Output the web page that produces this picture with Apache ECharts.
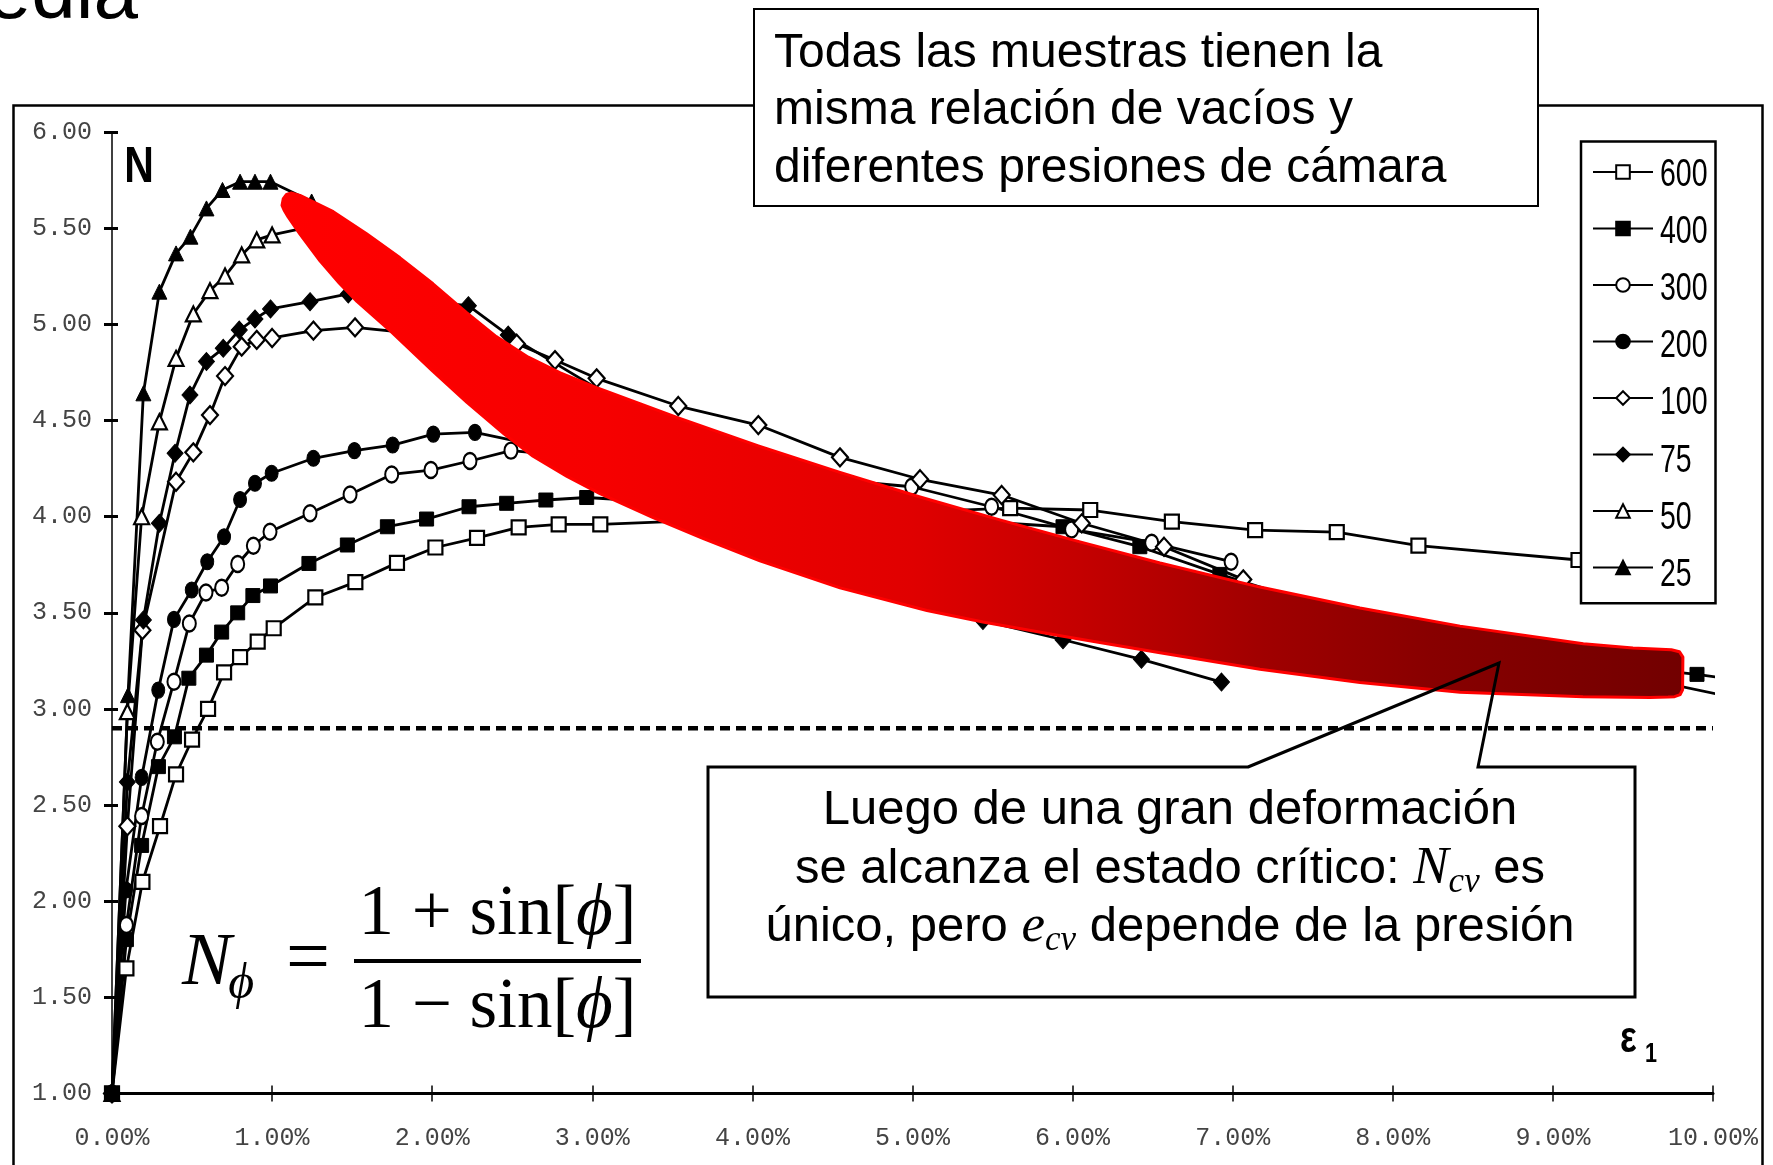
<!DOCTYPE html>
<html>
<head>
<meta charset="utf-8">
<script src="https://cdn.jsdelivr.net/npm/echarts@6/dist/echarts.min.js"></script>
<style>
html, body { margin: 0; padding: 0; background: #fff; }
#chart { width: 1773px; height: 1165px; }
</style>
</head>
<body>
<div id="chart"></div>
<script>
// Axial strain ε1 (%) versus N for each confining pressure (kPa)
const seriesNames = ['600', '400', '300', '200', '100', '75', '50', '25'];

const s600 = [[0,1.00],[0.09,1.65],[0.19,2.10],[0.30,2.39],[0.40,2.66],[0.50,2.84],[0.60,3.00],[0.70,3.19],[0.80,3.27],[0.91,3.35],[1.01,3.42],[1.27,3.58],[1.52,3.66],[1.78,3.76],[2.02,3.84],[2.28,3.89],[2.54,3.945],[2.79,3.96],[3.05,3.96],[5.61,4.045],[6.11,4.035],[6.62,3.975],[7.14,3.93],[7.65,3.92],[8.16,3.85],[9.16,3.775],[10.07,3.645]];
const s400 = [[0,1.00],[0.09,1.80],[0.185,2.29],[0.29,2.70],[0.39,2.855],[0.48,3.16],[0.59,3.28],[0.685,3.40],[0.785,3.50],[0.88,3.59],[0.99,3.64],[1.23,3.757],[1.47,3.853],[1.72,3.948],[1.965,3.988],[2.23,4.052],[2.465,4.07],[2.71,4.087],[2.965,4.10],[5.94,3.948],[6.42,3.844],[6.92,3.70],[8.40,3.31],[9.90,3.18],[10.07,3.16]];
const s300 = [[0,1.00],[0.09,1.876],[0.185,2.443],[0.283,2.829],[0.387,3.142],[0.483,3.445],[0.587,3.606],[0.685,3.631],[0.785,3.754],[0.883,3.849],[0.987,3.922],[1.237,4.018],[1.487,4.116],[1.747,4.22],[1.992,4.243],[2.236,4.29],[2.492,4.344],[4.995,4.156],[5.494,4.052],[5.994,3.934],[6.494,3.865],[6.99,3.766]];
const s200 = [[0,1.00],[0.087,2.058],[0.185,2.644],[0.289,3.098],[0.387,3.466],[0.498,3.619],[0.595,3.766],[0.70,3.896],[0.80,4.09],[0.893,4.174],[0.997,4.226],[1.258,4.304],[1.514,4.344],[1.753,4.373],[2.007,4.43],[2.267,4.439],[10.07,3.07]];
const s100 = [[0,1.00],[0.096,2.39],[0.19,3.41],[0.40,4.182],[0.508,4.335],[0.612,4.529],[0.706,4.732],[0.81,4.885],[0.904,4.92],[1.00,4.93],[1.258,4.968],[1.518,4.985],[2.528,4.90],[2.767,4.815],[3.027,4.72],[3.537,4.576],[4.037,4.477],[4.547,4.309],[5.047,4.195],[5.557,4.113],[6.057,3.966],[6.571,3.844],[7.066,3.674]];
const s75 = [[0,1.00],[0.096,2.62],[0.196,3.463],[0.296,3.966],[0.394,4.33],[0.487,4.633],[0.59,4.807],[0.695,4.876],[0.795,4.971],[0.893,5.029],[0.99,5.081],[1.237,5.119],[1.476,5.159],[2.226,5.098],[2.475,4.945],[5.44,3.46],[5.94,3.36],[6.43,3.258],[6.93,3.14]];
const s50 = [[0,1.00],[0.096,2.986],[0.185,4.00],[0.296,4.494],[0.40,4.824],[0.508,5.055],[0.612,5.176],[0.706,5.252],[0.81,5.362],[0.904,5.44],[1.0,5.466],[1.25,5.51]];
const s25 = [[0,1.00],[0.10,3.072],[0.196,4.642],[0.296,5.171],[0.40,5.37],[0.49,5.457],[0.59,5.604],[0.69,5.70],[0.80,5.743],[0.893,5.743],[0.99,5.743],[1.247,5.64]];

// Critical-state reference value of N
const nCritical = 2.90;

// Axis ranges
const xMin = 0, xMax = 10, xStep = 1;
const yMin = 1, yMax = 6, yStep = 0.5;

// Outline of the highlighted band (strain %, N): upper edge left to right, lower edge right to left
const bandUpper = [[1.062,5.62],[1.07,5.655],[1.09,5.677],[1.12,5.684],[1.174,5.672],[1.382,5.587],[1.59,5.472],[1.799,5.347],[2.005,5.212],[2.215,5.062],[2.40,4.937],[2.60,4.83],[2.80,4.748],[3.027,4.672],[3.537,4.514],[4.037,4.369],[4.547,4.231],[5.047,4.103],[5.557,3.981],[6.046,3.869],[6.546,3.759],[7.17,3.634],[7.795,3.525],[8.42,3.431],[9.19,3.339],[9.50,3.317],[9.74,3.308],[9.79,3.298],[9.812,3.27],[9.81,3.10],[9.795,3.075],[9.76,3.064]];
const bandLower = [[9.72,3.062],[9.607,3.06],[9.188,3.063],[8.42,3.087],[7.795,3.138],[7.17,3.207],[6.546,3.292],[5.94,3.378],[5.44,3.452],[5.09,3.512],[4.547,3.63],[4.047,3.77],[3.69,3.888],[3.38,3.995],[3.048,4.12],[2.842,4.21],[2.63,4.315],[2.45,4.43],[2.217,4.595],[2.00,4.76],[1.74,4.965],[1.53,5.12],[1.42,5.215],[1.30,5.33],[1.174,5.47],[1.10,5.56],[1.075,5.595]];
const bandPath = bandUpper.concat(bandLower);

// ---------- text helpers ----------
const mctx = document.createElement('canvas').getContext('2d');
function measure(font, s) { mctx.font = font; mctx.textBaseline = 'middle'; return mctx.measureText(s); }
const SANS = 'Liberation Sans, Arial, sans-serif';
const SERIF = 'Liberation Serif, DejaVu Serif, serif';
const MONO = 'Liberation Mono, DejaVu Sans Mono, monospace';

function baseOffset(font) { return measure(font, 'H').actualBoundingBoxDescent; }
function textEl(str, font, x, baseline, align, z, scaleX) {
  const a = align || 'left';
  return {
    type: 'text', x: x, y: baseline - baseOffset(font), z: z || 40, silent: true, scaleX: scaleX || 1,
    style: { text: str, font: font, fill: '#000', align: a, verticalAlign: 'middle', textAlign: a, textVerticalAlign: 'middle' }
  };
}
function runEls(segs, cx, baseline, z) {
  const widths = segs.map(s => measure(s.font, s.t).width);
  const total = widths.reduce((a, b) => a + b, 0);
  let x = cx - total / 2;
  const out = [];
  segs.forEach((s, i) => { out.push(textEl(s.t, s.font, x, baseline + (s.dy || 0), 'left', z)); x += widths[i]; });
  return out;
}

// ---------- series ----------
const ellipse = 'path://M5,0 A5,6.5 0 1,1 5,13 A5,6.5 0 1,1 5,0 Z';
function mkSeries(name, pts, symbol, filled, size) {
  return {
    type: 'line', name: name, symbol: symbol, symbolSize: size, clip: false, z: 2,
    data: pts.map(p => (p[0] > xMax ? { value: p, symbol: 'none' } : p)),
    lineStyle: { color: '#000', width: 2.8 },
    itemStyle: { color: filled ? '#000' : '#fff', borderColor: '#000', borderWidth: filled ? 1 : 2.2 },
    emphasis: { disabled: true }
  };
}

const series = [
  mkSeries('600', s600, 'rect', false, 14),
  mkSeries('400', s400, 'rect', true, 14),
  mkSeries('300', s300, ellipse, false, [13, 16]),
  mkSeries('200', s200, ellipse, true, [13, 16]),
  mkSeries('100', s100, 'diamond', false, [16, 18]),
  mkSeries('75', s75, 'diamond', true, [16, 18]),
  mkSeries('50', s50, 'triangle', false, [15, 15]),
  mkSeries('25', s25, 'triangle', true, [15, 15]),
  {
    type: 'line', name: 'Ncv', data: [[xMin, nCritical], [xMax, nCritical]], symbol: 'none', z: 3,
    lineStyle: { color: '#000', width: 4.5, type: [10, 6] }, emphasis: { disabled: true }
  },
  {
    type: 'custom', name: 'critical band', coordinateSystem: 'cartesian2d', data: bandPath, z: 5, silent: true, clip: false,
    renderItem: function (params, api) {
      if (params.dataIndex !== 0) return null;
      const pts = bandPath.map(p => api.coord(p));
      return {
        type: 'polygon',
        shape: { points: pts },
        style: {
          fill: new echarts.graphic.LinearGradient(0, 0, 1, 0, [
            { offset: 0, color: '#ff0000' },
            { offset: 0.23, color: '#f60000' },
            { offset: 0.45, color: '#e00000' },
            { offset: 0.57, color: '#c40000' },
            { offset: 0.7, color: '#a00000' },
            { offset: 0.82, color: '#880000' },
            { offset: 1, color: '#720000' }
          ]),
          stroke: '#ff0000', lineWidth: 3, lineJoin: 'round'
        }
      };
    }
  }
];

// ---------- annotations ----------
const sansTop = 'normal normal 48px ' + SANS;
const sansCall = 'normal normal 49px ' + SANS;
const mathIt = 'italic normal 53px ' + SERIF;
const mathSub = 'italic normal 35px ' + SERIF;
const fUp = 'normal normal 71px ' + SERIF;
const fIt = 'italic normal 71px ' + SERIF;
const fN = 'italic normal 74px ' + SERIF;
const fSub = 'italic normal 50px ' + SERIF;
const fEq = 'normal normal 78px ' + SERIF;
const legendFont = 'normal normal 38px ' + SANS;
const condensed = 'normal bold 50px ' + SANS;

// legend entry centres (px), used for the condensed legend labels
const legendTop = 141.5, legendPadTop = 22, legendIconH = 17, legendGap = 40.2;
const legendLabels = seriesNames.map((n, i) => {
  const cy = legendTop + legendPadTop + legendIconH / 2 + i * (legendIconH + legendGap);
  return textEl(n, legendFont, 1660, cy + 0.358 * 38, 'left', 60, 0.75);
});

const nW = measure(fN, 'N').width;
const graphics = [
  // slide frame
  { type: 'polyline', z: 20, silent: true, shape: { points: [[13.5, 1180], [13.5, 105.5], [1762.5, 105.5], [1762.5, 1180]] },
    style: { stroke: '#000', lineWidth: 2.5, fill: null } },
  // partial slide title
  textEl('edia', 'normal normal 80px ' + SANS, 138, 19, 'right', 20),
  // top note box
  { type: 'rect', z: 21, silent: true, shape: { x: 754, y: 9, width: 784, height: 197 },
    style: { fill: '#fff', stroke: '#000', lineWidth: 2 } },
  textEl('Todas las muestras tienen la', sansTop, 774, 66.5, 'left', 22),
  textEl('misma relación de vacíos y', sansTop, 774, 124, 'left', 22),
  textEl('diferentes presiones de cámara', sansTop, 774, 181.5, 'left', 22),
  // axis titles (condensed)
  textEl('N', condensed, 139, 181.5, 'center', 22, 0.82),
  textEl('ε', 'normal bold 44px ' + SANS, 1620, 1052, 'left', 22, 0.8),
  textEl('1', 'normal bold 27px ' + SANS, 1645, 1061.5, 'left', 22, 0.8),
  // formula
  textEl('N', fN, 182, 984, 'left', 22),
  textEl('ϕ', fSub, 182 + nW - 3, 998, 'left', 22),
  textEl('=', fEq, 286, 983, 'left', 22),
  { type: 'line', z: 22, silent: true, shape: { x1: 354, y1: 961, x2: 641, y2: 961 }, style: { stroke: '#000', lineWidth: 4 } }
].concat(
  runEls([{ t: '1 + sin[', font: fUp }, { t: 'ϕ', font: fIt }, { t: ']', font: fUp }], 497.5, 934, 22),
  runEls([{ t: '1 − sin[', font: fUp }, { t: 'ϕ', font: fIt }, { t: ']', font: fUp }], 497.5, 1027, 22),
  [
    // callout box with pointer
    { type: 'polygon', z: 30, silent: true,
      shape: { points: [[1248, 767], [1499, 663], [1478, 767], [1635, 767], [1635, 997], [708, 997], [708, 767]] },
      style: { fill: null, stroke: '#000', lineWidth: 3, lineJoin: 'miter' } }
  ],
  runEls([{ t: 'Luego de una gran deformación', font: sansCall }], 1170, 824, 31),
  runEls([{ t: 'se alcanza el estado crítico: ', font: sansCall }, { t: 'N', font: mathIt }, { t: 'cv', font: mathSub, dy: 9 }, { t: ' es', font: sansCall }], 1170, 882.5, 31),
  runEls([{ t: 'único, pero ', font: sansCall }, { t: 'e', font: mathIt }, { t: 'cv', font: mathSub, dy: 9 }, { t: ' depende de la presión', font: sansCall }], 1170, 941, 31),
  legendLabels
);

// ---------- chart ----------
const chart = echarts.init(document.getElementById('chart'), null, { renderer: 'canvas' });
const tickLabelStyle = { fontFamily: MONO, fontSize: 25, color: '#444' };
chart.setOption({
  animation: false,
  backgroundColor: '#fff',
  tooltip: { show: false },
  grid: { left: 112, top: 132.3, width: 1601, height: 961.1, containLabel: false, outerBoundsMode: 'none' },
  xAxis: [
    { type: 'value', min: xMin, max: xMax, interval: xStep, position: 'bottom',
      axisLine: { show: true, onZero: false, lineStyle: { color: '#000', width: 3 } },
      axisTick: { show: true, inside: false, length: 8, lineStyle: { color: '#000', width: 1.5 } },
      axisLabel: Object.assign({ margin: 32, formatter: v => v.toFixed(2) + '%' }, tickLabelStyle),
      splitLine: { show: false } },
    { type: 'value', min: xMin, max: xMax, interval: xStep, position: 'bottom', offset: 0,
      axisLine: { show: false, onZero: false },
      axisTick: { show: true, inside: true, length: 8, lineStyle: { color: '#000', width: 1.5 } },
      axisLabel: { show: false }, splitLine: { show: false } }
  ],
  yAxis: [
    { type: 'value', min: yMin, max: yMax, interval: yStep, position: 'left',
      axisLine: { show: true, onZero: false, lineStyle: { color: '#000', width: 1.5 } },
      axisTick: { show: true, inside: false, length: 8, lineStyle: { color: '#000', width: 3 } },
      axisLabel: Object.assign({ margin: 20, formatter: v => v.toFixed(2) }, tickLabelStyle),
      splitLine: { show: false } },
    { type: 'value', min: yMin, max: yMax, interval: yStep, position: 'left', offset: 0,
      axisLine: { show: false, onZero: false },
      axisTick: { show: true, inside: true, length: 6, lineStyle: { color: '#000', width: 3 } },
      axisLabel: { show: false }, splitLine: { show: false } }
  ],
  legend: {
    data: seriesNames, orient: 'vertical', left: 1581, top: legendTop, z: 10,
    backgroundColor: '#fff', borderColor: '#000', borderWidth: 2.5, borderRadius: 0,
    padding: [legendPadTop, 61.5, 28, 11], itemWidth: 60, itemHeight: legendIconH, itemGap: legendGap,
    selectedMode: false,
    formatter: function () { return ''; },
    textStyle: { fontSize: 1 }
  },
  series: series,
  graphic: { elements: graphics }
});
</script>
</body>
</html>
